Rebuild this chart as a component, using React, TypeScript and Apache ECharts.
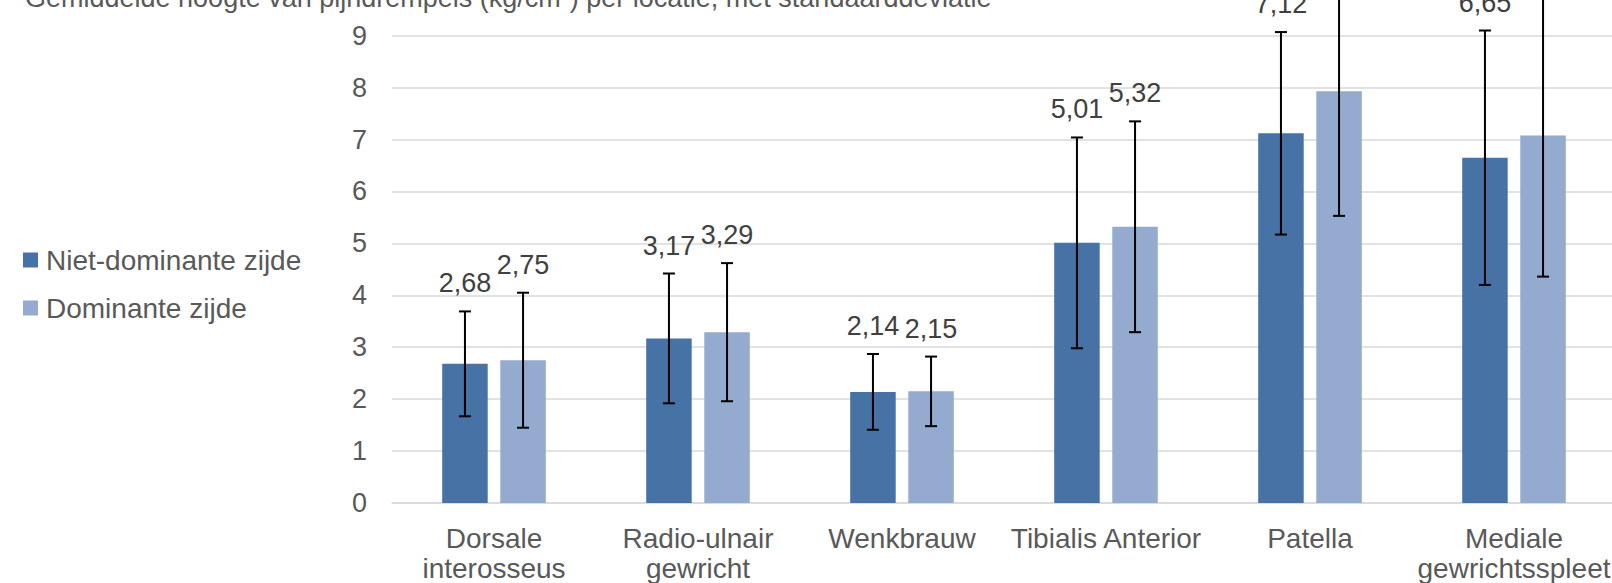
import React, { useEffect, useRef } from "react";
import * as echarts from "echarts";

const title = "Gemiddelde hoogte van pijndrempels (kg/cm²) per locatie, met standaarddeviatie";
const categories = [
  "Dorsale\ninterosseus",
  "Radio-ulnair\ngewricht",
  "Wenkbrauw",
  "Tibialis Anterior",
  "Patella",
  "Mediale\ngewrichtsspleet",
];
const seriesNames = ["Niet-dominante zijde", "Dominante zijde"];
const nonDominantMean = [2.68, 3.17, 2.14, 5.01, 7.12, 6.65];
const nonDominantSD = [1.01, 1.25, 0.73, 2.03, 1.95, 2.45];
const dominantMean = [2.75, 3.29, 2.15, 5.32, 7.93, 7.08];
const dominantSD = [1.3, 1.33, 0.67, 2.03, 2.4, 2.72];
const yTicks = [0, 1, 2, 3, 4, 5, 6, 7, 8, 9];

const FONT = "'Liberation Sans', Arial, sans-serif";
const COLORS = ["#4672A6", "#95AACF"];
const BAR_W = 45.5;
const BAR_GAP = 12.6;

function fmt(v: number) {
  return v.toFixed(2).replace(".", ",");
}

function errorSeries(means: number[], sds: number[], offset: number) {
  return {
    type: "custom",
    silent: true,
    clip: false,
    z: 10,
    data: means.map((m, i) => [i, m, sds[i]]),
    encode: { x: 0, y: 1 },
    renderItem: (params: any, api: any) => {
      const idx = api.value(0);
      const mean = api.value(1);
      const sd = api.value(2);
      const c = api.coord([idx, mean]);
      const x = c[0] + offset;
      const yTop = api.coord([idx, mean + sd])[1];
      const yBot = api.coord([idx, mean - sd])[1];
      const st = { stroke: "#000000", lineWidth: 2 };
      return {
        type: "group",
        children: [
          { type: "line", shape: { x1: x, y1: yTop, x2: x, y2: yBot }, style: st },
          { type: "line", shape: { x1: x - 6, y1: yTop, x2: x + 6, y2: yTop }, style: st },
          { type: "line", shape: { x1: x - 6, y1: yBot, x2: x + 6, y2: yBot }, style: st },
          {
            type: "text",
            x: x,
            y: yTop - 28,
            style: {
              text: fmt(mean),
              fill: "#404040",
              font: `27px ${FONT}`,
              align: "center",
              verticalAlign: "middle",
            },
          },
        ],
      };
    },
  };
}

export default function App() {
  const ref = useRef<HTMLDivElement>(null);
  useEffect(() => {
    if (!ref.current) return;
    const chart = echarts.init(ref.current, undefined, { renderer: "svg" });
    const off = (BAR_W + BAR_GAP) / 2;
    chart.setOption({
      animation: false,
      backgroundColor: "#ffffff",
      textStyle: { fontFamily: FONT },
      title: {
        text: title,
        left: 20,
        top: 19,
        textStyle: { fontFamily: FONT, fontSize: 27, fontWeight: "normal", color: "#595959" },
      },
      legend: {
        orient: "vertical",
        left: 18,
        top: 280,
        itemWidth: 15,
        itemHeight: 15,
        itemGap: 18,
        icon: "rect",
        data: seriesNames,
        textStyle: {
          fontFamily: FONT,
          fontSize: 28,
          color: "#595959",
          lineHeight: 30,
          padding: [0, 0, 0, 3],
        },
      },
      grid: { left: 392, right: 84, top: 75.7, bottom: 78.7 },
      xAxis: {
        type: "category",
        data: categories,
        axisTick: { show: false },
        axisLine: { lineStyle: { color: "#d9d9d9", width: 1.5 } },
        axisLabel: {
          interval: 0,
          margin: 20,
          fontFamily: FONT,
          fontSize: 28,
          lineHeight: 30,
          color: "#595959",
        },
      },
      yAxis: {
        type: "value",
        min: yTicks[0],
        max: yTicks[yTicks.length - 1],
        interval: 1,
        axisLine: { show: false },
        axisTick: { show: false },
        splitLine: { lineStyle: { color: "#d9d9d9", width: 1.5 } },
        axisLabel: { margin: 25, fontFamily: FONT, fontSize: 27, color: "#595959" },
      },
      series: [
        {
          name: seriesNames[0],
          type: "bar",
          data: nonDominantMean,
          barWidth: BAR_W,
          barGap: `${(BAR_GAP / BAR_W) * 100}%`,
          itemStyle: { color: COLORS[0] },
        },
        {
          name: seriesNames[1],
          type: "bar",
          data: dominantMean,
          barWidth: BAR_W,
          barGap: `${(BAR_GAP / BAR_W) * 100}%`,
          itemStyle: { color: COLORS[1] },
        },
        errorSeries(nonDominantMean, nonDominantSD, -off),
        errorSeries(dominantMean, dominantSD, off),
      ],
    });
    return () => chart.dispose();
  }, []);
  return (
    <div
      ref={ref}
      style={{ position: "absolute", left: 0, top: -40, width: 1700, height: 623 }}
    />
  );
}
